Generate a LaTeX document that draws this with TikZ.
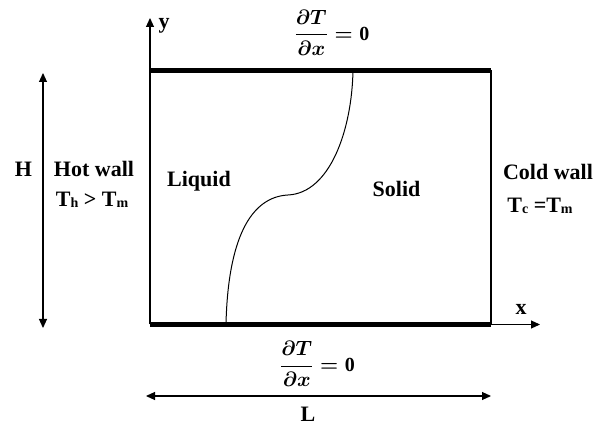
\documentclass[tikz,border=0pt]{standalone}
\usepackage{amsmath}
\usepackage{fontspec}
\setmainfont{Liberation Serif}
\usetikzlibrary{arrows.meta}
\begin{document}
\begin{tikzpicture}[x=1pt,y=-1pt,
  lbl/.style={font=\fontsize{22}{24}\selectfont\bfseries, anchor=base, inner sep=0pt},
  eqn/.style={font=\fontsize{20}{24}\selectfont\boldmath, inner sep=0pt},
  wall/.style={line width=5pt},
  thin/.style={line width=1.1pt},
  arr/.style={line width=1.1pt, -{Triangle[length=9pt,width=8pt]}},
  darr/.style={line width=1.1pt, {Triangle[length=9pt,width=8pt]}-{Triangle[length=9pt,width=8pt]}}]
\useasboundingbox (0,0) rectangle (595,427);
% corners
\coordinate (TL) at (150,70.5);
\coordinate (TR) at (491,70.5);
\coordinate (BL) at (150,324.5);
\coordinate (BR) at (491,324.5);
\coordinate (ytip) at (150,18);
\coordinate (xtip) at (540,324.5);
\coordinate (Htop) at (43,73);
\coordinate (Hbot) at (43,328);
\coordinate (Lleft) at (146,396);
\coordinate (Lright) at (491,396);
% walls
\draw[thin] (TR) -- (BR);
\draw[arr] (BL) -- (ytip);
\draw[arr] (BL) -- (xtip);
\draw[wall] (TL) -- (TR);
\draw[wall] (BL) -- (BR);
% dimension arrows
\draw[darr] (Htop) -- (Hbot);
\draw[darr] (Lleft) -- (Lright);
% interface
\coordinate (c0) at (226,324);
\coordinate (c1) at (288,195);
\coordinate (c2) at (353,70);
\draw[line width=1pt] (c0) .. controls (228,240) and (250,197) .. (c1)
  .. controls (330,193) and (352,130) .. (c2);
% labels
\node[lbl] (ylab) at (164,29) {y};
\node[lbl] (xlab) at (521,315) {x};
\node[lbl] (H) at (23.5,177) {H};
\node[lbl] (hot) at (94,177) {Hot wall};
\node[lbl] (hotT) at (92,207) {T\raisebox{-1pt}{\fontsize{14}{14}\selectfont h} > T\raisebox{-1pt}{\fontsize{14}{14}\selectfont m}};
\node[lbl] (liq) at (199,187) {Liquid};
\node[lbl] (sol) at (396.5,197) {Solid};
\node[lbl] (cold) at (548,180) {Cold wall};
\node[lbl] (coldT) at (540,213) {T\raisebox{-1pt}{\fontsize{14}{14}\selectfont c} =T\raisebox{-1pt}{\fontsize{14}{14}\selectfont m}};
\node[lbl] (L) at (308,422) {L};
\node[eqn] (eqtop) at (332,33) {$\dfrac{\partial T}{\partial x}=\textbf{0}$};
\node[eqn] (eqbot) at (317.5,364) {$\dfrac{\partial T}{\partial x}=\textbf{0}$};
\end{tikzpicture}
\end{document}
